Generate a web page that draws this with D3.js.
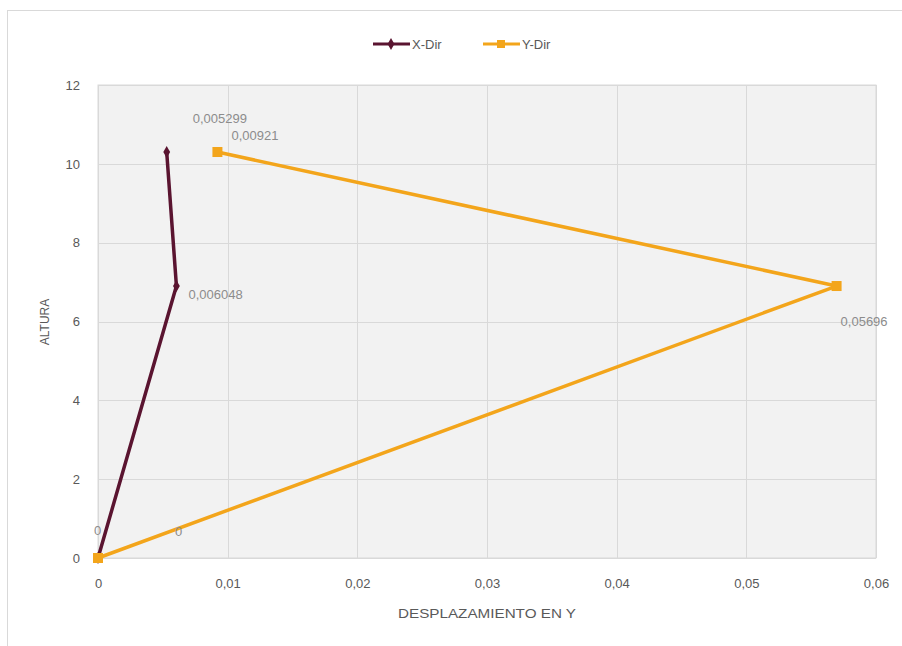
<!DOCTYPE html>
<html lang='en'>
<head>
  <meta charset='UTF-8'>
  <title>Desplazamiento</title>
  <style>
    body { margin: 0; background: #fff; }
    text { font-family: 'Liberation Sans', Arial, sans-serif; }
  </style>
</head>
<body>
  <script src='https://cdn.jsdelivr.net/npm/d3@7/dist/d3.min.js'></script>
  <script>
// data
const alturas = [0, 6.9, 10.3];
const xDir = [0, 0.006048, 0.005299];
const yDir = [0, 0.05696, 0.00921];
const xLabels = ['0', '0,006048', '0,005299'];
const yLabels = ['0', '0,05696', '0,00921'];
const xTicks = [0, 0.01, 0.02, 0.03, 0.04, 0.05, 0.06];
const yTicks = [0, 2, 4, 6, 8, 10, 12];

const width = 902, height = 646;
const plot = { left: 98, right: 876, top: 85, bottom: 558 };

const svg = d3.select('body').append('svg')
  .attr('width', width).attr('height', height);

// outer frame
svg.append('rect')
  .attr('x', 7.5).attr('y', 10.5)
  .attr('width', 920).attr('height', 660)
  .attr('fill', '#fff').attr('stroke', '#d9d9d9');

const x = d3.scaleLinear().domain([0, 0.06]).range([plot.left, plot.right]);
const y = d3.scaleLinear().domain([0, 12]).range([plot.bottom, plot.top]);

// plot background
svg.append('rect')
  .attr('x', plot.left).attr('y', plot.top)
  .attr('width', plot.right - plot.left).attr('height', plot.bottom - plot.top)
  .attr('fill', '#f2f2f2').attr('stroke', '#d9d9d9');

// grid
svg.append('g').selectAll('line').data(xTicks).join('line')
  .attr('x1', d => Math.round(x(d)) + 0.5).attr('x2', d => Math.round(x(d)) + 0.5)
  .attr('y1', plot.top).attr('y2', plot.bottom)
  .attr('stroke', '#d9d9d9');
svg.append('g').selectAll('line').data(yTicks).join('line')
  .attr('y1', d => Math.round(y(d)) + 0.5).attr('y2', d => Math.round(y(d)) + 0.5)
  .attr('x1', plot.left).attr('x2', plot.right)
  .attr('stroke', '#d9d9d9');

// axes (tick labels only)
const fmt = d => d3.format('.2~f')(d).replace('.', ',');
const xAxis = svg.append('g')
  .attr('transform', `translate(0,${plot.bottom + 9})`)
  .call(d3.axisBottom(x).tickValues(xTicks).tickFormat(fmt).tickSize(0).tickPadding(12));
const yAxis = svg.append('g')
  .attr('transform', `translate(${plot.left - 10},0)`)
  .call(d3.axisLeft(y).tickValues(yTicks).tickSize(0).tickPadding(8));
[xAxis, yAxis].forEach(a => {
  a.select('.domain').remove();
  a.selectAll('text').attr('fill', '#595959').style('font-size', '13px')
    .style('font-family', "'Liberation Sans', Arial, sans-serif");
});

// axis titles
svg.append('text')
  .attr('x', 487).attr('y', 618)
  .attr('text-anchor', 'middle')
  .attr('fill', '#595959').style('font-size', '12px')
  .attr('textLength', 178).attr('lengthAdjust', 'spacingAndGlyphs')
  .text('DESPLAZAMIENTO EN Y');
svg.append('text')
  .attr('transform', 'translate(49,322) rotate(-90)')
  .attr('text-anchor', 'middle')
  .attr('fill', '#595959').style('font-size', '12px')
  .text('ALTURA');

const xColor = '#5a1430';
const yColor = '#f3a51b';

const line = d3.line().x(d => x(d[0])).y(d => y(d[1]));
const xPts = xDir.map((v, i) => [v, alturas[i]]);
const yPts = yDir.map((v, i) => [v, alturas[i]]);

svg.append('path').datum(xPts)
  .attr('d', line).attr('fill', 'none')
  .attr('stroke', xColor).attr('stroke-width', 3.5).attr('stroke-linejoin', 'round');
svg.append('path').datum(yPts)
  .attr('d', line).attr('fill', 'none')
  .attr('stroke', yColor).attr('stroke-width', 3.5).attr('stroke-linejoin', 'round');

const diamond = d3.symbol().type(d3.symbolDiamond).size(40);
svg.append('g').selectAll('path').data(xPts).join('path')
  .attr('transform', d => `translate(${x(d[0])},${y(d[1])})`)
  .attr('d', diamond).attr('fill', xColor);
svg.append('g').selectAll('rect').data(yPts).join('rect')
  .attr('x', d => x(d[0]) - 5).attr('y', d => y(d[1]) - 5)
  .attr('width', 10).attr('height', 10)
  .attr('fill', yColor);

// data labels, offsets as placed in the original
const xOff = [[-4, -23], [12, 13], [26, -29]];
const yOff = [[77, -22], [4, 40], [14, -12]];
const labelStyle = sel => sel.attr('fill', '#8c8c8c').style('font-size', '13px');
svg.append('g').selectAll('text').data(xPts).join('text')
  .attr('x', (d, i) => x(d[0]) + xOff[i][0])
  .attr('y', (d, i) => y(d[1]) + xOff[i][1])
  .text((d, i) => xLabels[i]).call(labelStyle);
svg.append('g').selectAll('text').data(yPts).join('text')
  .attr('x', (d, i) => x(d[0]) + yOff[i][0])
  .attr('y', (d, i) => y(d[1]) + yOff[i][1])
  .text((d, i) => yLabels[i]).call(labelStyle);

// legend
const legend = [
  { name: 'X-Dir', color: xColor, x0: 373 },
  { name: 'Y-Dir', color: yColor, x0: 483 }
];
const lg = svg.append('g').selectAll('g').data(legend).join('g')
  .attr('transform', d => `translate(${d.x0},44)`);
lg.append('line').attr('x1', 0).attr('x2', 37)
  .attr('stroke', d => d.color).attr('stroke-width', 3);
lg.each(function(d) {
  const g = d3.select(this);
  if (d.name === 'X-Dir') {
    g.append('path').attr('transform', 'translate(18,0)').attr('d', diamond).attr('fill', d.color);
  } else {
    g.append('rect').attr('x', 14).attr('y', -4).attr('width', 8).attr('height', 8).attr('fill', d.color);
  }
});
lg.append('text').attr('x', 39).attr('y', 5)
  .attr('fill', '#595959').style('font-size', '13px')
  .text(d => d.name);
  </script>
</body>
</html>
